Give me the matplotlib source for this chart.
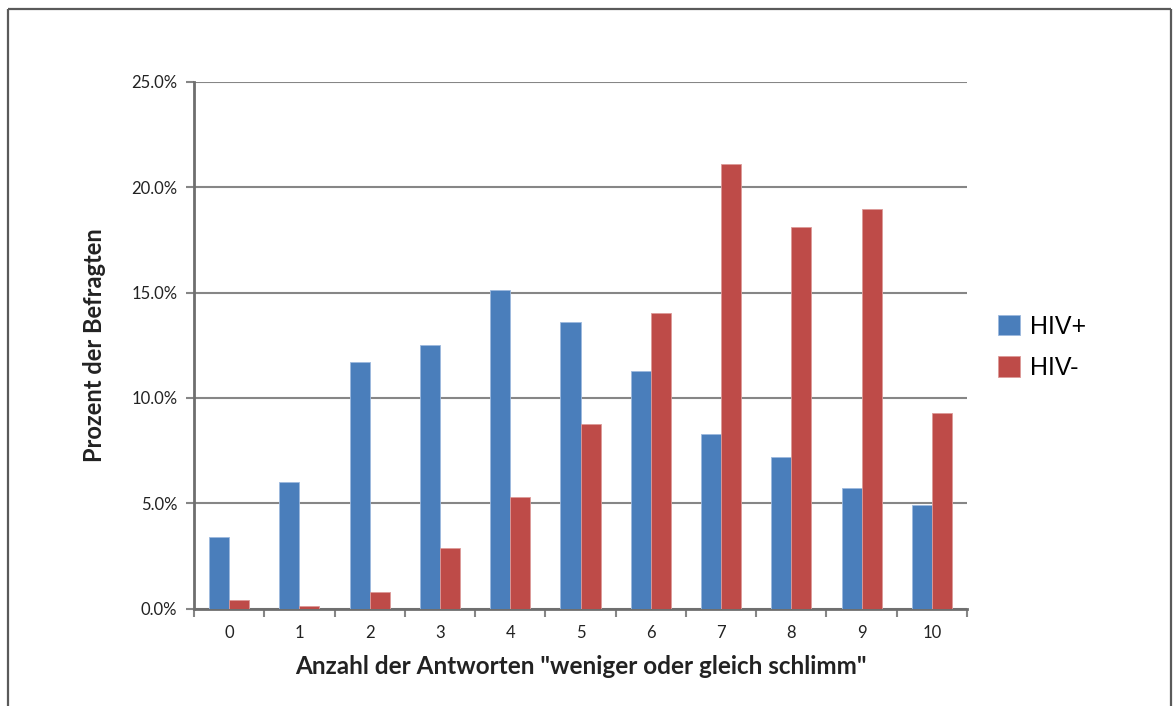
import matplotlib
matplotlib.use("Agg")
import matplotlib.pyplot as plt
from matplotlib.lines import Line2D
from matplotlib.ticker import FuncFormatter, MultipleLocator
import numpy as np

categories = ["0", "1", "2", "3", "4", "5", "6", "7", "8", "9", "10"]
hiv_pos = [3.4, 6.0, 11.7, 12.5, 15.1, 13.6, 11.3, 8.3, 7.2, 5.7, 4.9]
hiv_neg = [0.4, 0.1, 0.8, 2.85, 5.3, 8.75, 14.05, 21.1, 18.1, 18.95, 9.3]
series_names = ["HIV+", "HIV-"]

W, H = 1176, 706
fig = plt.figure(figsize=(W / 100, H / 100), dpi=100)
fig.patch.set_facecolor("white")

# outer chart frame (open at the bottom)
fx0, fx1, fy1 = 8 / W, 1171 / W, 1 - 9 / H
frame_kw = dict(color="#5a5a5a", lw=1.6, transform=fig.transFigure, solid_capstyle="butt")
fig.add_artist(Line2D([fx0, fx0], [0, fy1], **frame_kw))
fig.add_artist(Line2D([fx0, fx1], [fy1, fy1], **frame_kw))
fig.add_artist(Line2D([fx1, fx1], [0, fy1], **frame_kw))

ax_l, ax_r, ax_t, ax_b = 194, 967, 82, 608.5
ax = fig.add_axes([ax_l / W, 1 - ax_b / H, (ax_r - ax_l) / W, (ax_b - ax_t) / H])

x = np.arange(len(categories))
bw = 0.285
blue, red = "#4a7ebb", "#be4b48"
ax.bar(x - bw / 2, hiv_pos, bw, color=blue, edgecolor="#9cb9de", linewidth=0.6,
       label=series_names[0], zorder=3)
ax.bar(x + bw / 2, hiv_neg, bw, color=red, edgecolor="#dc9a98", linewidth=0.6,
       label=series_names[1], zorder=3)

ax.set_xlim(-0.5, len(categories) - 0.5)
ax.set_ylim(0, 25)
ax.yaxis.set_major_locator(MultipleLocator(5))
ax.yaxis.set_major_formatter(FuncFormatter(lambda v, p: f"{v:.1f}%"))
ax.grid(axis="y", color="#868686", lw=1.5, zorder=0)

ax.set_xticks(x)
ax.set_xticklabels(categories)
ax.set_xticks(np.arange(-0.5, len(categories)), minor=True)
ax.tick_params(axis="x", which="major", length=0, pad=12, labelsize=12, labelcolor="#222222")
ax.tick_params(axis="x", which="minor", length=6, width=1.5, color="#868686")
ax.tick_params(axis="y", length=6, width=1.5, color="#868686", pad=6,
               labelsize=12, labelcolor="#222222")
for lab in ax.get_xticklabels() + ax.get_yticklabels():
    lab.set_family("Lato")

for s in ["top", "right"]:
    ax.spines[s].set_visible(False)
for s in ["left", "bottom"]:
    ax.spines[s].set_color("#6e6e6e")
    ax.spines[s].set_linewidth(2)

ax.set_xlabel('Anzahl der Antworten "weniger oder gleich schlimm"', fontsize=17.5,
              fontweight="bold", family="Lato", color="#222222", labelpad=10)
ax.set_ylabel("Prozent der Befragten", fontsize=17, fontweight="bold",
              family="Lato", color="#222222", labelpad=18)

fig.legend(loc="upper left", bbox_to_anchor=(975 / W, 1 - 292 / H), frameon=False,
           prop={"family": "Liberation Sans", "size": 18}, handlelength=0.9,
           handleheight=0.9, handletextpad=0.4, labelspacing=0.7)

fig.savefig("out.png", dpi=100)
